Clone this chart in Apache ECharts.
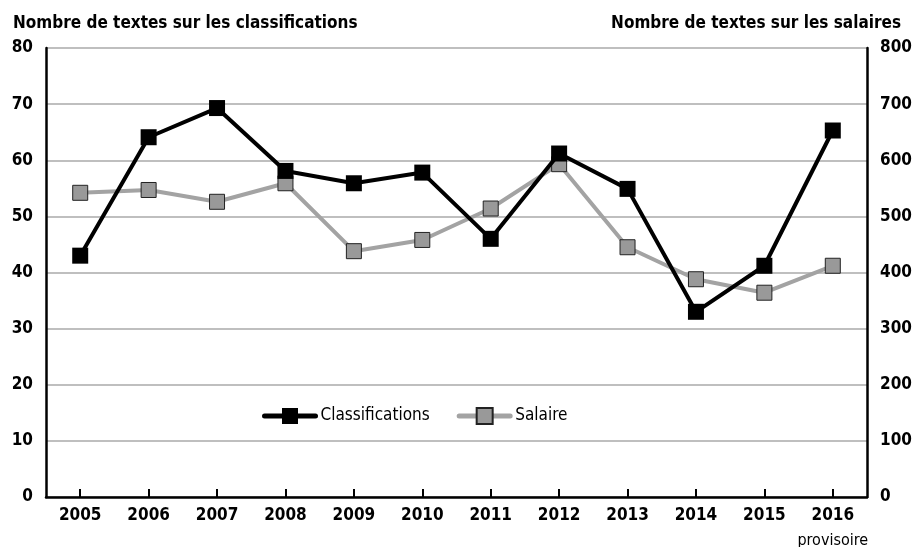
<!DOCTYPE html>
<html><head><meta charset="utf-8">
<script src="https://cdn.jsdelivr.net/npm/echarts@6/dist/echarts.min.js"></script>
<style>html,body{margin:0;padding:0;background:#fff}#c{width:914px;height:547px}</style>
</head><body><div id="c"></div>
<script>
const years = ['2005','2006','2007','2008','2009','2010','2011','2012','2013','2014','2015','2016'];
const classifications = [43.0, 64.1, 69.3, 58.1, 55.9, 57.8, 46.0, 61.2, 54.9, 33.0, 41.2, 65.3];
const salaire = [542, 547, 526, 559, 438, 458, 514, 593, 445, 388, 364, 412];
const leftTicks = [0, 80, 10];
const rightTicks = [0, 800, 100];
const leftTitle = 'Nombre de textes sur les classifications';
const rightTitle = 'Nombre de textes sur les salaires';
const provisionalNote = 'provisoire';

const FONT = "'Liberation Sans Narrow', 'DejaVu Sans Condensed', 'Liberation Sans', sans-serif";
const chart = echarts.init(document.getElementById('c'), null, {renderer: 'canvas'});
chart.setOption({
  animation: false,
  textStyle: {fontFamily: FONT},
  title: [
    {text: leftTitle, left: 8, top: 10, textStyle: {fontFamily: FONT, fontWeight: 'bold', fontSize: 17, color: '#000'}},
    {text: rightTitle, right: 8, top: 10, textStyle: {fontFamily: FONT, fontWeight: 'bold', fontSize: 17, color: '#000'}}
  ],
  legend: {
    left: 262, top: 407, padding: 0, itemWidth: 51, itemHeight: 20, itemGap: 27,
    textStyle: {fontFamily: FONT, fontSize: 17, color: '#000'},
    lineStyle: {width: 5, cap: 'round'},
    data: ['Classifications', 'Salaire']
  },
  grid: {left: 46, right: 47, top: 48, bottom: 50, outerBoundsMode: 'none'},
  xAxis: {
    type: 'category', data: years, boundaryGap: true,
    axisLine: {show: true, lineStyle: {color: '#000', width: 2.5}},
    axisTick: {show: true, inside: true, alignWithLabel: true, interval: 0, length: 8, lineStyle: {color: '#000', width: 2}},
    axisLabel: {
      margin: 9, color: '#000', fontFamily: FONT, fontWeight: 'bold', fontSize: 17, interval: 0,
      formatter: function (v, i) { return i === years.length - 1 ? '{y|' + v + '}\n{p|' + provisionalNote + '}' : '{y|' + v + '}'; },
      rich: {
        y: {fontFamily: FONT, fontWeight: 'bold', fontSize: 17, color: '#000', lineHeight: 20},
        p: {fontFamily: FONT, fontWeight: 'normal', fontSize: 16, color: '#000', lineHeight: 30}
      }
    }
  },
  yAxis: [
    {type: 'value', min: leftTicks[0], max: leftTicks[1], interval: leftTicks[2], position: 'left',
     axisLine: {show: true, lineStyle: {color: '#000', width: 2.5}}, axisTick: {show: false},
     axisLabel: {margin: 13, color: '#000', fontFamily: FONT, fontWeight: 'bold', fontSize: 17},
     splitLine: {lineStyle: {color: '#aaa', width: 1.5}}},
    {type: 'value', min: rightTicks[0], max: rightTicks[1], interval: rightTicks[2], position: 'right',
     axisLine: {show: true, lineStyle: {color: '#000', width: 2.5}}, axisTick: {show: false},
     axisLabel: {margin: 13, color: '#000', fontFamily: FONT, fontWeight: 'bold', fontSize: 17},
     splitLine: {show: false}}
  ],
  series: [
    {name: 'Salaire', type: 'line', yAxisIndex: 1, data: salaire, symbol: 'rect', symbolSize: 15,
     lineStyle: {color: '#a3a3a3', width: 4}, itemStyle: {color: '#999', borderColor: '#222', borderWidth: 1}, z: 2},
    {name: 'Classifications', type: 'line', yAxisIndex: 0, data: classifications, symbol: 'rect', symbolSize: 16,
     lineStyle: {color: '#000', width: 4}, itemStyle: {color: '#000'}, z: 3}
  ]
});
</script></body></html>
